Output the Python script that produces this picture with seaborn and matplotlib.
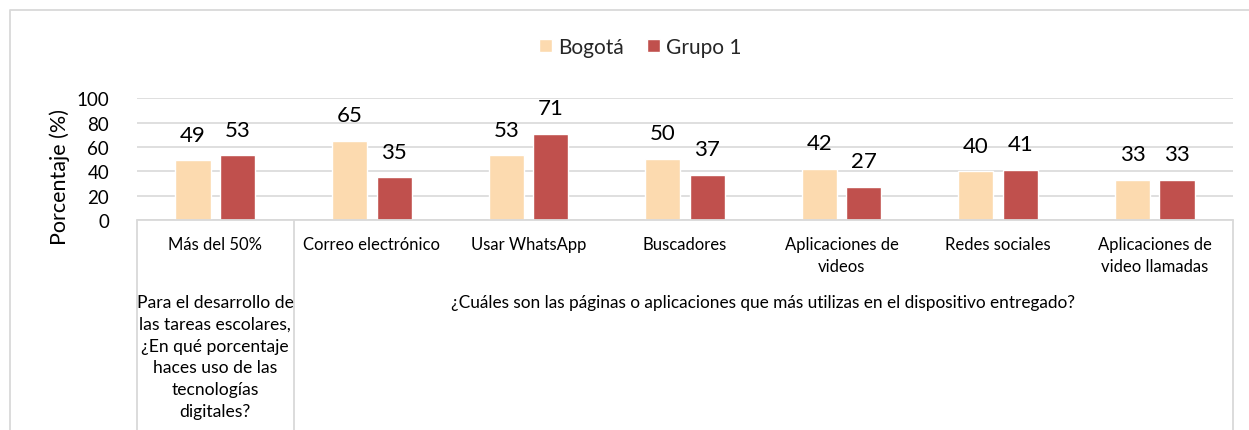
import matplotlib
matplotlib.use("Agg")
import matplotlib.pyplot as plt
import matplotlib.transforms as mtransforms
from matplotlib.lines import Line2D
import pandas as pd
import seaborn as sns

# ---- data ----
categories = [
    "Más del 50%",
    "Correo electrónico",
    "Usar WhatsApp",
    "Buscadores",
    "Aplicaciones de\nvideos",
    "Redes sociales",
    "Aplicaciones de\nvideo llamadas",
]
series_names = ["Bogotá", "Grupo 1"]
bogota = [49, 65, 53, 50, 42, 40, 33]
grupo1 = [53, 35, 71, 37, 27, 41, 33]
question_1 = ("Para el desarrollo de\nlas tareas escolares,\n¿En qué porcentaje\n"
              "haces uso de las\ntecnologías\ndigitales?")
question_2 = "¿Cuáles son las páginas o aplicaciones que más utilizas en el dispositivo entregado?"
y_ticks = [0, 20, 40, 60, 80, 100]
y_label = "Porcentaje (%)"

colors = {"Bogotá": "#FCDAAF", "Grupo 1": "#C0504D"}
line_gray = "#D9D9D9"

df = pd.DataFrame({
    "categoria": categories * 2,
    "serie": [series_names[0]] * len(categories) + [series_names[1]] * len(categories),
    "valor": bogota + grupo1,
})

sns.set_theme(style="white")
plt.rcParams["font.family"] = ["Lato", "DejaVu Sans"]

W, H = 1249, 431
fig = plt.figure(figsize=(W / 100, H / 100), dpi=100)


def fy(y_px):
    return 1 - y_px / H


def fx(x_px):
    return x_px / W


ax_left, ax_right, ax_top, ax_bottom = 137, 1233, 99.3, 221
ax = fig.add_axes([fx(ax_left), fy(ax_bottom), fx(ax_right - ax_left), (ax_bottom - ax_top) / H])

sns.barplot(data=df, x="categoria", y="valor", hue="serie", order=categories,
            hue_order=series_names, palette=colors, width=0.568, gap=0.21,
            saturation=1, legend=False, ax=ax, zorder=3)

ax.set_xlim(-0.5, len(categories) - 0.5)
ax.set_ylim(0, 100)
ax.set_yticks(y_ticks)
ax.set_yticklabels([str(t) for t in y_ticks], fontsize=13.5, color="#000000")
ax.tick_params(axis="y", length=0, pad=20)
ax.set_xticks([])
ax.set_xlabel("")
ax.set_ylabel("")
for s in ax.spines.values():
    s.set_visible(False)
ax.yaxis.grid(True, color=line_gray, linewidth=1.2, zorder=0)
ax.set_axisbelow(True)

# value labels above bars
for cont in ax.containers:
    for bar in cont:
        h = bar.get_height()
        ax.annotate(f"{h:g}", (bar.get_x() + bar.get_width() / 2, h),
                    xytext=(0, 18.5), textcoords="offset points",
                    ha="center", va="center", fontsize=16, color="#000000",
                    annotation_clip=False)

# category table below the axis
blend = mtransforms.blended_transform_factory(ax.transData, fig.transFigure)


def put_lines(x, first_y_px, text, step_px=21.7, size=12):
    for i, line in enumerate(text.split("\n")):
        fig.text(x, fy(first_y_px + i * step_px), line, transform=blend,
                 ha="center", va="center", fontsize=size, color="#000000")


for i, cat in enumerate(categories):
    put_lines(i, 245, cat)
put_lines(0, 303.3, question_1, size=12.6)
put_lines(3.5, 303.3, question_2, size=12.4)

table_lines = [
    Line2D([-0.5, len(categories) - 0.5], [fy(ax_bottom)] * 2),
]
for xv in (-0.5, 0.5, len(categories) - 0.5):
    table_lines.append(Line2D([xv, xv], [fy(ax_bottom), 0]))
for ln in table_lines:
    ln.set_transform(blend)
    ln.set_color(line_gray)
    ln.set_linewidth(1.3)
    fig.add_artist(ln)

# outer frame
fig.add_artist(Line2D([fx(10), fx(10), 1], [0, fy(11), fy(11)],
                      transform=fig.transFigure, color=line_gray, linewidth=1.3))

# axis title
fig.text(fx(60), fy(177), y_label, rotation=90, ha="center", va="center",
         fontsize=15.5, color="#000000")

# legend
handles = [plt.Rectangle((0, 0), 1, 1, facecolor=colors[n]) for n in series_names]
fig.legend(handles, series_names, loc="center", bbox_to_anchor=(fx(640), fy(48)),
           ncol=2, frameon=False, fontsize=15, handlelength=0.62, handleheight=0.62,
           handletextpad=0.3, columnspacing=1.1)

fig.savefig("out.png", dpi=100, facecolor="white")
